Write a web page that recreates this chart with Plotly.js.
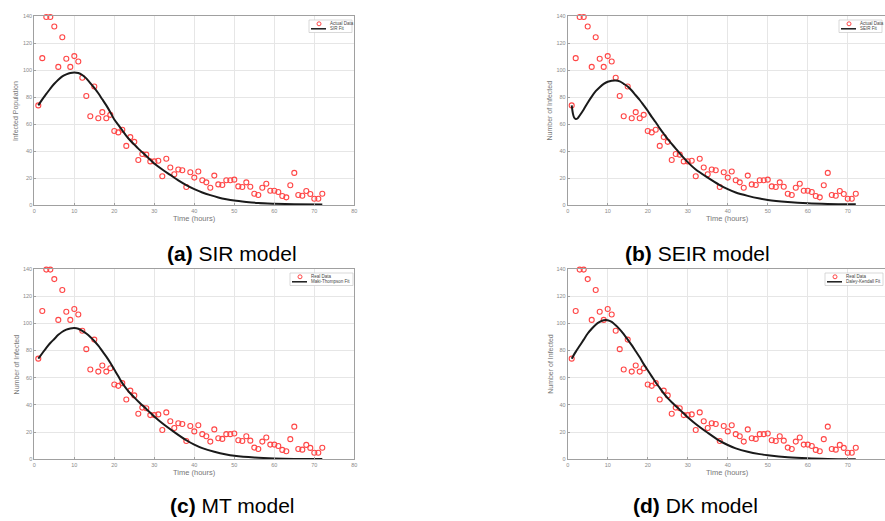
<!DOCTYPE html>
<html><head><meta charset="utf-8">
<script src="https://cdn.plot.ly/plotly-3.0.1.min.js"></script>
<style>html,body{margin:0;padding:0;background:#fff}#chart{width:885px;height:521px}</style>
</head><body><div id="chart"></div>
<script>
// ---- data ----
const hours = [1,2,3,4,5,6,7,8,9,10,11,12,13,14,15,16,17,18,19,20,21,22,23,24,25,26,27,28,29,30,31,32,33,34,35,36,37,38,39,40,41,42,43,44,45,46,47,48,49,50,51,52,53,54,55,56,57,58,59,60,61,62,63,64,65,66,67,68,69,70,71,72];
const infected = [74,109,139.5,139.5,132.5,102.5,124.5,108.5,102.5,110.5,106.5,94.5,81,66,88,64.5,69,64.5,67,55,54,56,44,50.5,47,33.5,38,37.5,32.5,32.5,33,21.5,34.5,28,23,26.5,26,13.5,24.5,20.5,25,18.5,17,13,22,15.5,15,18.5,18.5,19,14,13.5,17,13.7,8.6,7.6,13,16,10.8,10.8,9.8,6.9,5.9,14.8,24,7.6,7.1,10.6,8.4,4.8,4.8,8.5];

const sirHours = [1,2,3,4,5,6,7,8,9,10,11,12,13,14,15,16,17,18,19,20,21,22,23,24,25,26,28,30,32,34,36,38,40,42,44,46,48,50,53,56,60,65,72];
const sirFit = [74,78.5,82.5,86.5,90,93,95.5,97,98,98.3,98,96.5,94,90.5,87,83,78.5,74,69,63.5,59.5,55.5,51.5,48,45,42,36.5,31,26.5,22.5,18.5,15,12,9.5,7.5,5.8,4.5,3.5,2.5,1.7,1.2,0.8,0.5];

const seirHours = [1,1.3,1.6,2,2.5,3,4,5,6,7,8,9,10,11,12,13,14,15,16,17,18,19,20,21,22,23,24,25,26,27,28,30,32,35,38,40,42,45,48,50,55,60,65,72];
const seirFit = [74,68,65,64,64.5,66.5,71,76,80.5,84.5,87.5,90,91.5,92.3,92.5,91.8,90,88,85,81.5,78,74,70,65.5,61.5,57,53,49,45.5,42,38.5,32,26.5,20.5,15,12,9.5,7,5,4,2.5,1.5,1,0.7];

const mtHours = [1,2,3,4,5,6,7,8,9,10,11,12,13,14,15,16,17,18,19,20,21,22,23,24,25,26,28,30,32,35,38,40,42,45,48,50,55,60,65,72];
const mtFit = [74,78,82,85.5,88.5,91.5,93.8,95.3,96.2,96.5,96,94.5,92.5,90,87,83.5,79.5,75.5,71,66,61,56,52,48.5,45.5,42.5,37,31.5,26.5,20,14,10.8,8.2,5.5,3.5,2.6,1.3,0.6,0.3,0.2];

const dkHours = [1,2,3,4,5,6,7,8,9,10,11,12,13,14,15,16,17,18,19,20,21,22,23,24,25,26,28,30,32,35,38,40,42,45,48,50,55,60,65,72];
const dkFit = [74,79,83.5,88,92.5,96,99,101,102.3,102.3,101,98.5,95.5,92,88,84,79.5,75,70,65.5,61,56.5,52.5,48.5,45,42,36.5,31,26,19.5,13.5,10.5,8,5.5,3.8,3,1.5,0.7,0.3,0.1];

const captionLetters = ['(a)','(b)','(c)','(d)'];
const captionNames = ['SIR model','SEIR model','MT model','DK model'];
const yTitles = ['Infected Population','Number of Infected','Number of Infected','Number of Infected'];
const xTitle = 'Time (hours)';
const dataLabels = ['Actual Data','Actual Data','Real Data','Real Data'];
const fitLabels = ['SIR Fit','SEIR Fit','Maki-Thompson Fit','Daley-Kendall Fit'];
const fitHours = [sirHours, seirHours, mtHours, dkHours];
const fitValues = [sirFit, seirFit, mtFit, dkFit];

// ---- layout helpers (pixel geometry) ----
const W = 885, H = 521;
const px = x => x / W;
const py = y => (H - y) / H;
const panels = [
  {left:34.3,  right:354.3, top:16.3,  bottom:205.3, xmax:80,   legR:352, legT:20,  legW:43, capX:232, capY:253},
  {left:567.7, right:885,   top:16.3,  bottom:205.3, xmax:79.3, legR:882, legT:20,  legW:43, capX:697, capY:253},
  {left:34.3,  right:354.3, top:268.9, bottom:459.3, xmax:80,   legR:353, legT:273, legW:63, capX:232, capY:505},
  {left:567.7, right:885,   top:268.9, bottom:459.3, xmax:79.3, legR:883, legT:273, legW:58, capX:695, capY:505}
];
const FONT = 'Liberation Sans, Arial, sans-serif';

const traces = [];
const layout = {
  width: W, height: H,
  margin: {l:0, r:0, t:0, b:0},
  paper_bgcolor: '#fff', plot_bgcolor: '#fff',
  showlegend: false,
  font: {family: FONT},
  annotations: [], shapes: []
};

panels.forEach((p, i) => {
  const n = i === 0 ? '' : String(i + 1);
  const xa = 'x' + n, ya = 'y' + n;
  traces.push({
    x: hours, y: infected, xaxis: xa, yaxis: ya, type: 'scatter', mode: 'markers',
    name: dataLabels[i], cliponaxis: false,
    marker: {symbol: 'circle-open', size: 5, color: 'rgb(255,70,70)', line: {width: 1.1, color: 'rgb(255,70,70)'}}
  });
  traces.push({
    x: fitHours[i], y: fitValues[i], xaxis: xa, yaxis: ya, type: 'scatter', mode: 'lines',
    name: fitLabels[i], line: {color: '#1a1a1a', width: 2, shape: 'spline', smoothing: 0.8}
  });
  const common = {
    showgrid: true, gridcolor: '#e6e6e6', gridwidth: 1, zeroline: false,
    showline: true, linecolor: '#a0a0a0', linewidth: 1, mirror: true,
    ticks: 'inside', ticklen: 2, tickcolor: '#a0a0a0',
    tickfont: {size: 5.5, color: '#8a8a8a', family: FONT}
  };
  layout['xaxis' + n] = Object.assign({}, common, {
    domain: [px(p.left), Math.min(1, px(p.right))], range: [0, p.xmax],
    tick0: 0, dtick: 10, anchor: ya
  });
  layout['yaxis' + n] = Object.assign({}, common, {
    domain: [py(p.bottom), py(p.top)], range: [0, 140],
    tick0: 0, dtick: 20, anchor: xa
  });
  // axis titles
  layout.annotations.push({
    text: xTitle, xref: 'paper', yref: 'paper', showarrow: false,
    x: px(p.left + 160), y: py(p.bottom + 13), xanchor: 'center', yanchor: 'middle',
    font: {size: 7.5, color: '#777', family: FONT}
  });
  layout.annotations.push({
    text: yTitles[i], xref: 'paper', yref: 'paper', showarrow: false, textangle: -90,
    x: px(p.left - 18), y: py((p.top + p.bottom) / 2), xanchor: 'center', yanchor: 'middle',
    font: {size: 7, color: '#777', family: FONT}
  });
  // caption
  layout.annotations.push({
    text: '<b>' + captionLetters[i] + '</b> ' + captionNames[i], xref: 'paper', yref: 'paper', showarrow: false,
    x: px(p.capX), y: py(p.capY), xanchor: 'center', yanchor: 'middle',
    font: {size: 21, color: '#000', family: FONT}
  });
  // compact legend box
  const L = p.legR - p.legW, T = p.legT, B = p.legT + 12.5;
  layout.shapes.push({type: 'rect', xref: 'paper', yref: 'paper',
    x0: px(L), x1: px(p.legR), y0: py(T), y1: py(B),
    line: {color: '#c8c8c8', width: 0.7}, fillcolor: '#fff', layer: 'above'});
  layout.shapes.push({type: 'circle', xref: 'paper', yref: 'paper',
    x0: px(L + 8), x1: px(L + 12), y0: py(T + 1.8), y1: py(T + 5.8),
    line: {color: 'rgb(255,70,70)', width: 1}, layer: 'above'});
  layout.shapes.push({type: 'line', xref: 'paper', yref: 'paper',
    x0: px(L + 2), x1: px(L + 17), y0: py(T + 8.8), y1: py(T + 8.8),
    line: {color: '#1a1a1a', width: 1.5}, layer: 'above'});
  layout.annotations.push({text: dataLabels[i], xref: 'paper', yref: 'paper', showarrow: false,
    x: px(L + 19), y: py(T + 3.8), xanchor: 'left', yanchor: 'middle',
    font: {size: 4.5, color: '#444', family: FONT}});
  layout.annotations.push({text: fitLabels[i], xref: 'paper', yref: 'paper', showarrow: false,
    x: px(L + 19), y: py(T + 8.8), xanchor: 'left', yanchor: 'middle',
    font: {size: 4.5, color: '#444', family: FONT}});
});

Plotly.newPlot('chart', traces, layout, {staticPlot: true, displayModeBar: false});
</script>
</body></html>
